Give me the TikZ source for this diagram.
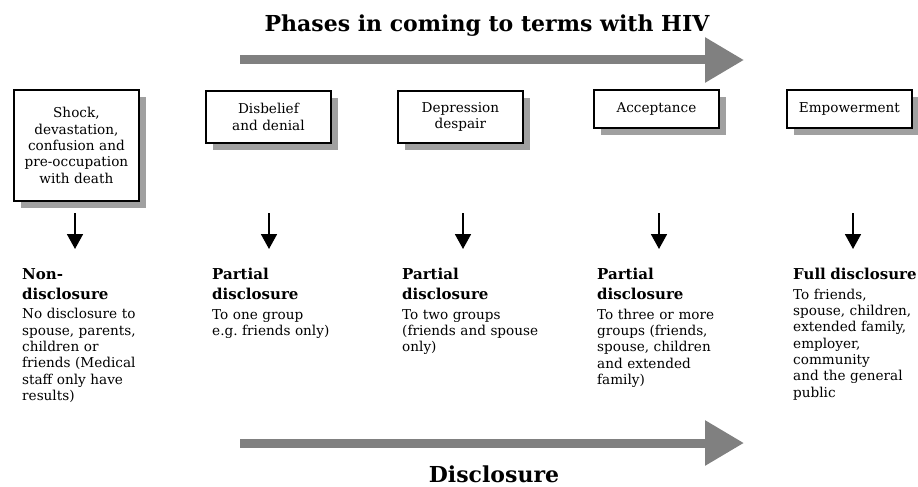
\documentclass[tikz,border=0pt]{standalone}
\usepackage{fontspec}
\setmainfont{DejaVu Serif}
\usetikzlibrary{arrows.meta,shadows}
\frenchspacing
\definecolor{arrowgray}{RGB}{128,128,128}
\definecolor{shadowgray}{RGB}{160,160,160}
\newcommand{\hdtext}[1]{{\fontsize{15}{20}\bfseries #1\par}\vspace{3.5pt}}
\tikzset{
  phasebox/.style={draw=black, line width=1.8pt, fill=white, minimum width=125pt,
    text width=121pt, align=center, inner sep=2pt, anchor=north west,
    font=\fontsize{13.6}{16.3}\selectfont,
    drop shadow={shadow xshift=7pt, shadow yshift=-7pt, fill=shadowgray, opacity=1}},
  disctext/.style={anchor=north west, inner sep=0pt, text width=140pt, align=left,
    font=\fontsize{13.6}{16.3}\selectfont},
  downarrow/.style={line width=1.8pt, -{Triangle[length=15pt,width=16pt]}},
  bigarrow/.style={draw=arrowgray, line width=9pt, -{Triangle[length=39pt,width=43pt]}},
  titletext/.style={font=\fontsize{22}{26}\bfseries, inner sep=0pt}
}
\begin{document}
\begin{tikzpicture}[x=1pt,y=-1pt]
\useasboundingbox (0,0) rectangle (918,487);
% title and top arrow
\node[titletext, anchor=base] (title) at (487,32) {Phases in coming to terms with HIV};
\coordinate (ta) at (240,60);
\coordinate (tb) at (744,60);
\draw[bigarrow] (ta) -- (tb);
% phase boxes
\node[phasebox, minimum height=111pt] (b1) at (13,89) {Shock,\\devastation,\\confusion and\\pre-occupation\\with death};
\node[phasebox, minimum height=52pt] (b2) at (205,90) {Disbelief\\and denial};
\node[phasebox, minimum height=52pt] (b3) at (397,90) {Depression\\despair};
\node[phasebox, minimum height=38pt] (b4) at (593,89) {Acceptance};
\node[phasebox, minimum height=38pt] (b5) at (786,89) {Empowerment};
% disclosure texts
\node[disctext] (d1) at (22,268) {\hdtext{Non-\\disclosure}No disclosure to\\spouse, parents,\\children or\\friends (Medical\\staff only have\\results)};
\node[disctext] (d2) at (212,268) {\hdtext{Partial\\disclosure}To one group\\e.g. friends only)};
\node[disctext] (d3) at (402,268) {\hdtext{Partial\\disclosure}To two groups\\(friends and spouse\\only)};
\node[disctext] (d4) at (597,268) {\hdtext{Partial\\disclosure}To three or more\\groups (friends,\\spouse, children\\and extended\\family)};
\node[disctext] (d5) at (793,268) {\hdtext{Full disclosure}To friends,\\spouse, children,\\extended family,\\employer,\\community\\and the general\\public};
% down arrows
\foreach \i/\xx in {1/75,2/269,3/463,4/659,5/853}{
  \coordinate (s\i) at (\xx,213);
  \coordinate (e\i) at (\xx,249);
  \draw[downarrow] (s\i) -- (e\i);
}
% bottom arrow and label
\coordinate (ba) at (240,443);
\coordinate (bb) at (744,443);
\draw[bigarrow] (ba) -- (bb);
\node[titletext, anchor=base] (disc) at (494,482) {Disclosure};
\end{tikzpicture}
\end{document}
